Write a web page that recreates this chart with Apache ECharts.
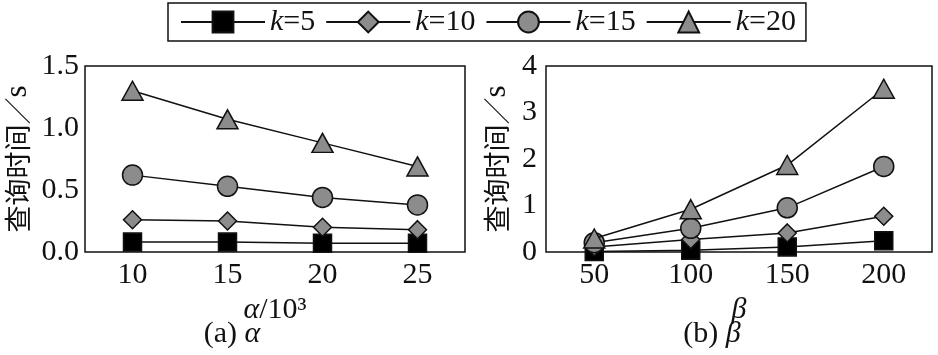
<!DOCTYPE html>
<html><head><meta charset="utf-8">
<script src="https://cdn.jsdelivr.net/npm/echarts@6/dist/echarts.min.js"></script>
<style>html,body{margin:0;padding:0;background:#fff}#c{width:938px;height:355px}</style>
</head><body><div id="c"></div>
<script>
const kNames = ['k=5', 'k=10', 'k=15', 'k=20'];
const alphaCats = ['10', '15', '20', '25'];
const betaCats = ['50', '100', '150', '200'];
const alphaTicks = [0, 0.5, 1.0, 1.5];
const betaTicks = [0, 1, 2, 3, 4];
// query time (s) vs alpha
const alphaK5 = [0.08, 0.08, 0.07, 0.07];
const alphaK10 = [0.26, 0.25, 0.20, 0.18];
const alphaK15 = [0.62, 0.53, 0.44, 0.38];
const alphaK20 = [1.30, 1.07, 0.88, 0.69];
// query time (s) vs beta
const betaK5 = [0.01, 0.04, 0.11, 0.24];
const betaK10 = [0.11, 0.27, 0.41, 0.77];
const betaK15 = [0.20, 0.51, 0.95, 1.84];
const betaK20 = [0.29, 0.92, 1.87, 3.51];

const alphaSets = [alphaK5, alphaK10, alphaK15, alphaK20];
const betaSets = [betaK5, betaK10, betaK15, betaK20];
const symbols = ['rect', 'diamond', 'circle', 'triangle'];
const sizes = [18, 18, 20, [21, 19]];
const fills = ['#000000', '#8c8c8c', '#8c8c8c', '#8c8c8c'];
const serif = 'Liberation Serif';
const ink = '#111';
const FS = 30;

function mkSeries(sets, gi) {
  return sets.map((d, i) => ({
    name: kNames[i], type: 'line', xAxisIndex: gi, yAxisIndex: gi,
    data: d, symbol: symbols[i], symbolSize: sizes[i], showSymbol: true,
    lineStyle: { color: ink, width: 1.5 },
    itemStyle: { color: fills[i], borderColor: ink, borderWidth: 1.5 },
    z: 2 + i, animation: false
  }));
}
const yName = '{c|查询时间／}{s|s}';
const yNameRich = {
  c: { fontFamily: 'Noto Sans CJK SC', fontSize: 27, color: ink },
  s: { fontFamily: serif, fontSize: 31, color: ink }
};
function xAx(gi, cats, nameRich, nm) {
  return { type: 'category', gridIndex: gi, data: cats, boundaryGap: true,
    axisLine: { show: false }, axisTick: { show: false }, splitLine: { show: false },
    axisLabel: { fontFamily: serif, fontSize: FS, color: ink, margin: 8 },
    name: nm, nameLocation: 'middle', nameGap: 38,
    nameTextStyle: { rich: nameRich } };
}
function yAx(gi, ticks, dec, gap, labM) {
  return { type: 'value', gridIndex: gi, min: ticks[0], max: ticks[ticks.length - 1],
    interval: ticks[1] - ticks[0],
    axisLine: { show: false }, axisTick: { show: false }, splitLine: { show: false },
    axisLabel: { fontFamily: serif, fontSize: FS, color: ink, margin: labM, formatter: v => v.toFixed(dec) },
    name: yName, nameLocation: 'middle', nameRotate: 90, nameGap: gap,
    nameTextStyle: { rich: yNameRich } };
}
const richIN = {
  i: { fontFamily: serif, fontStyle: 'italic', fontSize: FS, color: ink },
  n: { fontFamily: serif, fontSize: FS, color: ink }
};
const richINfill = {
  i: { fontFamily: serif, fontStyle: 'italic', fontSize: FS, fill: ink },
  n: { fontFamily: serif, fontSize: FS, fill: ink }
};
const chart = echarts.init(document.getElementById('c'), null, { renderer: 'canvas' });
chart.setOption({
  backgroundColor: '#fff',
  animation: false,
  legend: {
    data: kNames, left: 168, top: 3, padding: [4, 10, 4, 12],
    borderColor: ink, borderWidth: 1.5, itemWidth: 84, itemHeight: 26, itemGap: 10,
    formatter: n => '{i|k}{n|' + n.slice(1) + '}',
    textStyle: { rich: richIN }
  },
  grid: [
    { left: 85, right: 473, top: 66, bottom: 103, show: true, borderColor: ink, borderWidth: 1.5 },
    { left: 546, right: 6, top: 66, bottom: 103, show: true, borderColor: ink, borderWidth: 1.5 }
  ],
  xAxis: [
    xAx(0, alphaCats, richIN, '{i|α}{n|/10³}'),
    xAx(1, betaCats, richIN, '{i|β}')
  ],
  yAxis: [yAx(0, alphaTicks, 1, 52, 6), yAx(1, betaTicks, 0, 34, 9)],
  series: mkSeries(alphaSets, 0).concat(mkSeries(betaSets, 1)),
  graphic: [
    { type: 'text', x: 232, y: 334, style: { text: '{n|(a) }{i|α}', align: 'center', verticalAlign: 'middle', rich: richINfill } },
    { type: 'text', x: 712, y: 334, style: { text: '{n|(b) }{i|β}', align: 'center', verticalAlign: 'middle', rich: richINfill } }
  ]
});
</script></body></html>
